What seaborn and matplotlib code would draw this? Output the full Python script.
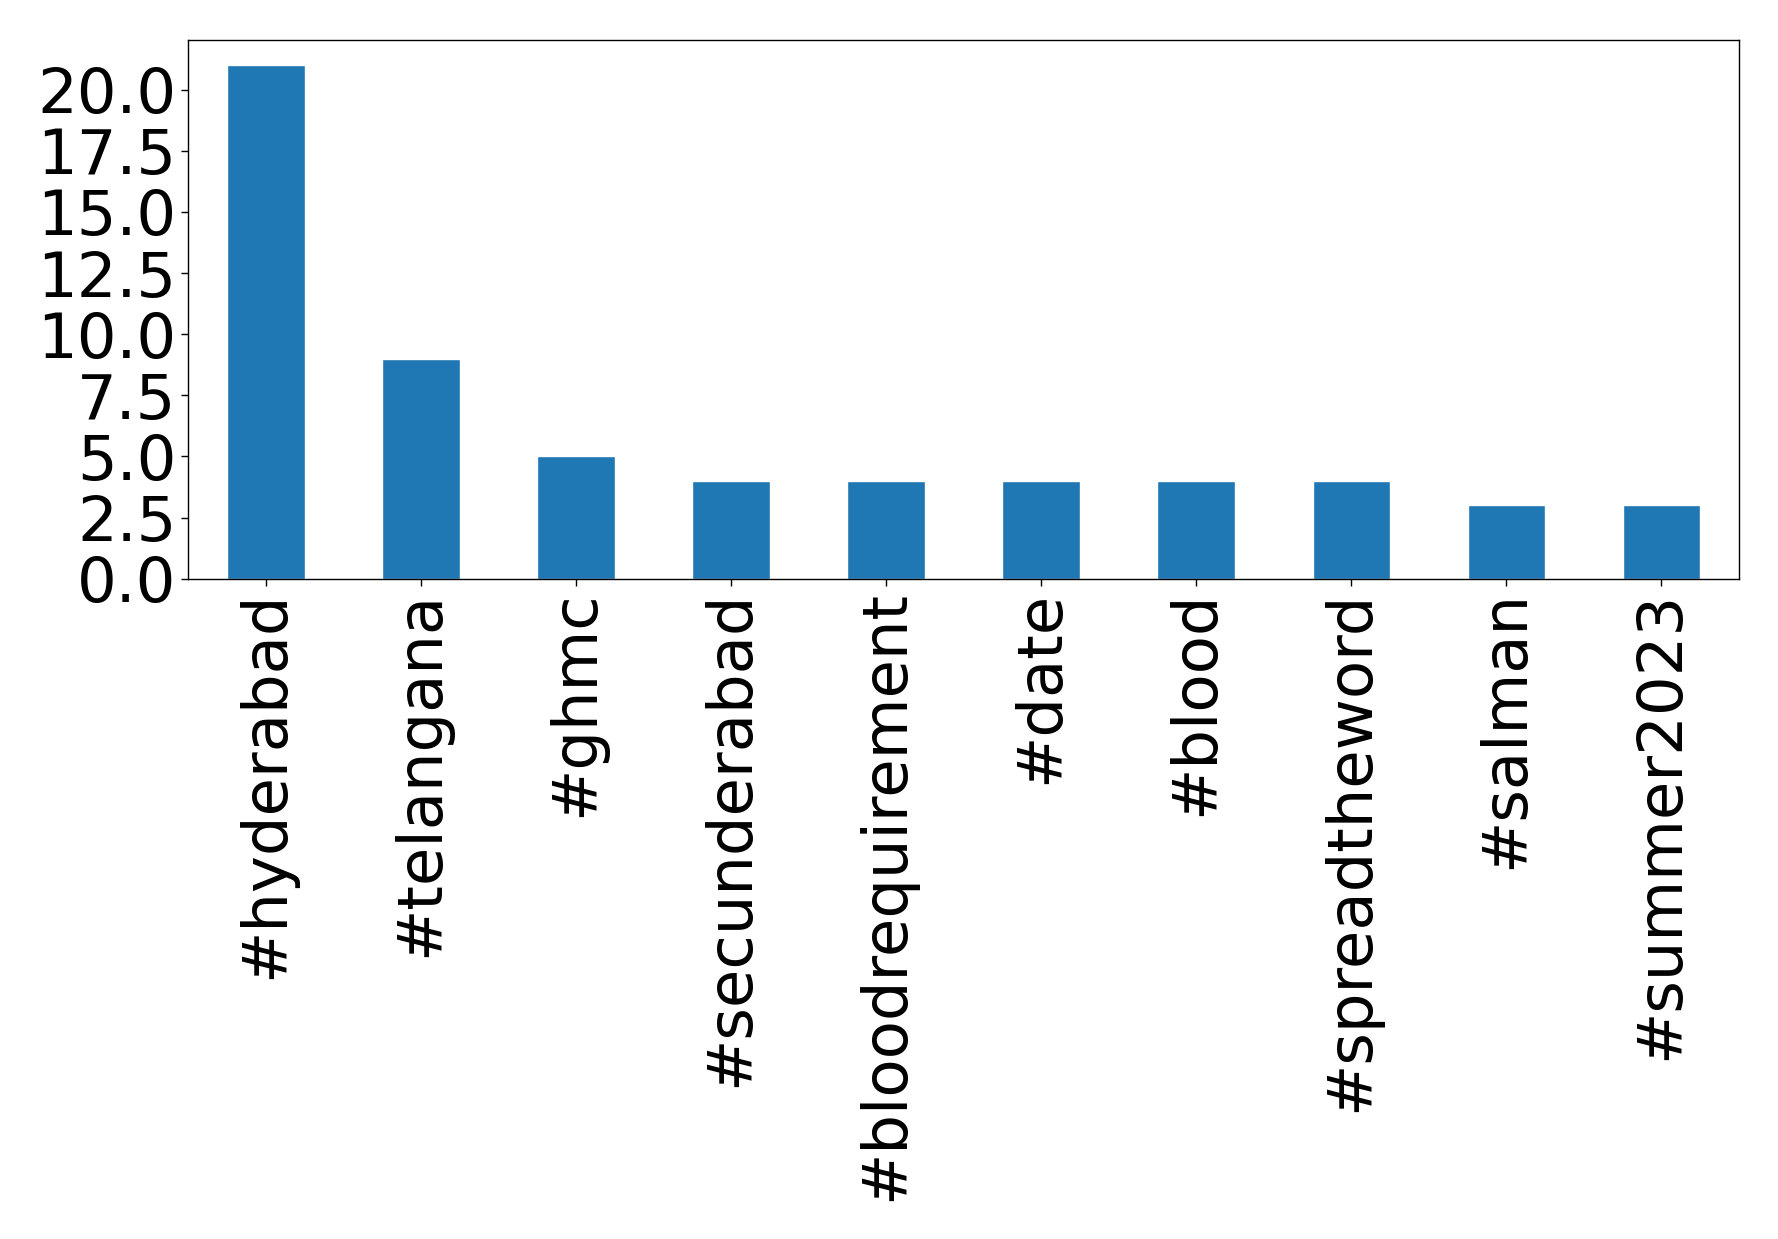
import matplotlib
matplotlib.use('Agg')
import matplotlib.pyplot as plt
import seaborn as sns
import pandas as pd

hashtags = ['#hyderabad', '#telangana', '#ghmc', '#secunderabad', '#bloodrequirement',
            '#date', '#blood', '#spreadtheword', '#salman', '#summer2023']
counts = [21, 9, 5, 4, 4, 4, 4, 4, 3, 3]

sns.set_style('white')
plt.rcParams['font.family'] = ['DejaVu Sans']
plt.rcParams['text.color'] = 'black'
plt.rcParams['xtick.color'] = 'black'
plt.rcParams['ytick.color'] = 'black'

df = pd.DataFrame({'tag': hashtags, 'count': counts})

fig, ax = plt.subplots(figsize=(17.78, 12.39), dpi=100)
sns.barplot(data=df, x='tag', y='count', color='#1f77b4', saturation=1, width=0.5, ax=ax)
ax.set_xlim(-0.5, len(hashtags) - 0.5)
ax.set_ylim(0, max(counts) * 1.05)
ax.set_xlabel('')
ax.set_ylabel('')
ax.set_yticks([0, 2.5, 5, 7.5, 10, 12.5, 15, 17.5, 20])
ax.set_yticklabels(['0.0', '2.5', '5.0', '7.5', '10.0', '12.5', '15.0', '17.5', '20.0'])
ax.tick_params(axis='both', labelsize=45, length=5, width=1, bottom=True, left=True,
               colors='black', labelcolor='black')
plt.setp(ax.get_xticklabels(), rotation=90)
for s in ax.spines.values():
    s.set_linewidth(1)
    s.set_color('black')
plt.subplots_adjust(left=0.106, right=0.978, top=0.968, bottom=0.533)
plt.savefig('out.png')
